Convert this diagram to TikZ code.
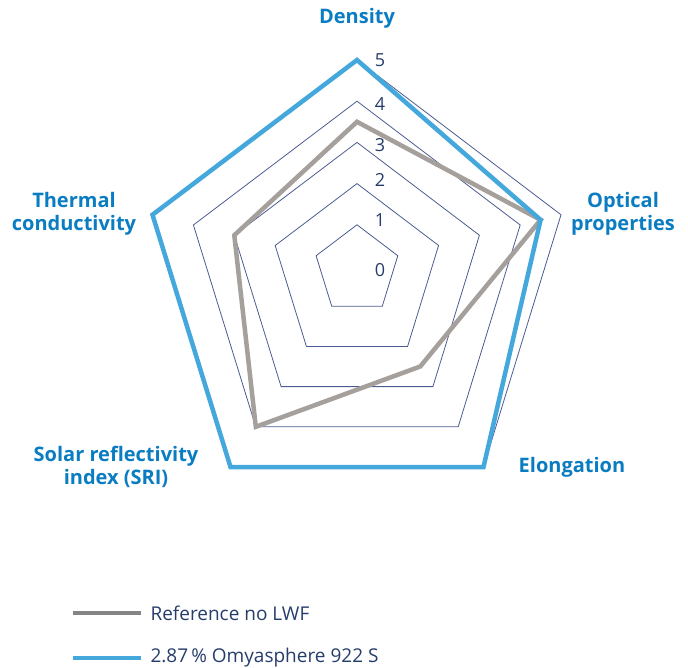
\documentclass[tikz,border=0pt]{standalone}
\usepackage{fontspec}
\setmainfont{Open Sans}
\usepackage{xcolor}
\usetikzlibrary{calc}
\definecolor{lwfblue}{HTML}{45A8DD}
\definecolor{labelblue}{HTML}{0A7CC1}
\definecolor{refgray}{HTML}{A5A09C}
\definecolor{legendgray}{HTML}{858585}
\definecolor{gridnavy}{HTML}{4C5C90}
\definecolor{textnavy}{HTML}{263D6B}

\begin{document}
\begin{tikzpicture}[x=1pt, y=-1pt,
    gridline/.style={draw=gridnavy, line width=0.8pt},
    refline/.style={draw=refgray, line width=4.5pt},
    lwfline/.style={draw=lwfblue, line width=4.5pt},
    axislabel/.style={font=\fontsize{20}{23}\selectfont\bfseries, text=labelblue, align=center},
    ticklabel/.style={font=\fontsize{18}{20}\selectfont, text=textnavy},
    legendtext/.style={font=\fontsize{19}{22}\selectfont, text=textnavy, anchor=west}]
    % radar chart: five axes, levels 0 to 5
    \useasboundingbox (0,0) rectangle (688,668);
    \coordinate (c) at (357,266);
    \coordinate (uD) at (0,-41.2);
    \coordinate (uO) at (40.8,-10.25);
    \coordinate (uE) at (25.3,40.2);
    \coordinate (uS) at (-25.3,40.2);
    \coordinate (uT) at (-40.9,-10.25);

    % grid pentagons
    \foreach \k in {1,...,5}
      \draw[gridline] ($(c)+\k*(uD)$) -- ($(c)+\k*(uO)$) -- ($(c)+\k*(uE)$)
        -- ($(c)+\k*(uS)$) -- ($(c)+\k*(uT)$) -- cycle;

    % scale numbers
    \foreach \k/\y in {0/270, 1/220, 2/180, 3/145, 4/104, 5/60}
      \node[ticklabel] (tick\k) at (380,\y) {\k};

    % data
    \draw[refline] ($(c)+3.5*(uD)$) -- ($(c)+4.5*(uO)$) -- ($(c)+2.5*(uE)$)
      -- ($(c)+4*(uS)$) -- ($(c)+3*(uT)$) -- cycle;
    \draw[lwfline] ($(c)+5*(uD)$) -- ($(c)+4.5*(uO)$) -- ($(c)+5*(uE)$)
      -- ($(c)+5*(uS)$) -- ($(c)+5*(uT)$) -- cycle;

    % axis labels
    \node[axislabel] (density) at (357,18) {Density};
    \node[axislabel] (optical) at (623,214) {Optical\\properties};
    \node[axislabel] (elongation) at (572,467) {Elongation};
    \node[axislabel] (sri) at (116,467) {Solar reflectivity\\index (SRI)};
    \node[axislabel] (thermal) at (74,214) {Thermal\\conductivity};

    % legend
    \coordinate (refA) at (73,613);
    \coordinate (refB) at (141,613);
    \coordinate (lwfA) at (73,658);
    \coordinate (lwfB) at (141,658);
    \draw[draw=legendgray, line width=4.5pt] (refA) -- (refB);
    \draw[lwfline] (lwfA) -- (lwfB);
    \node[legendtext] (reftext) at (147,613) {Reference no LWF};
    \node[legendtext] (lwftext) at (147,658) {2.87\,\% Omyasphere 922 S};
\end{tikzpicture}
\end{document}
